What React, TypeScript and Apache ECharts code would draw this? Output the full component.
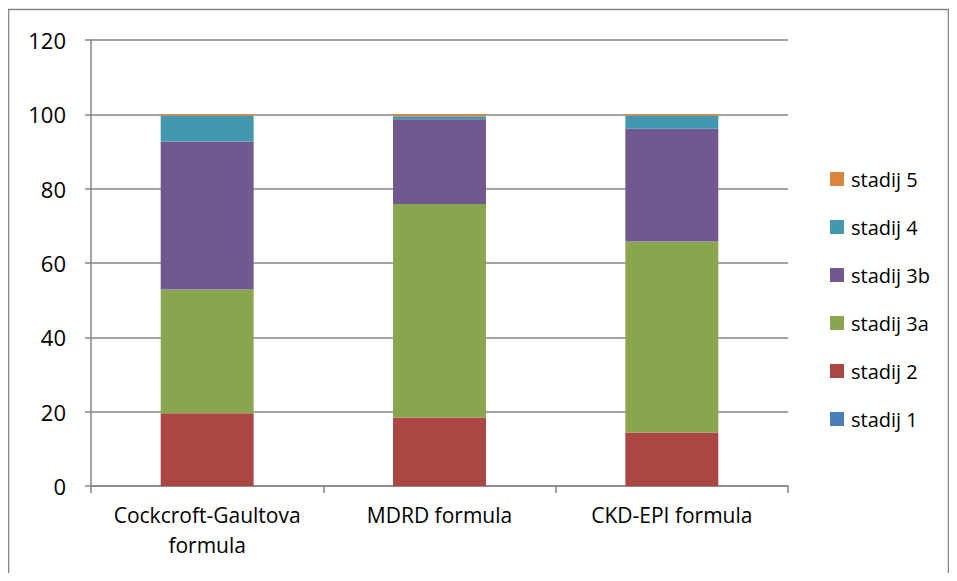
import React, { useEffect, useRef } from "react";
import * as echarts from "echarts";

const categories = ["Cockcroft-Gaultova\nformula", "MDRD formula", "CKD-EPI formula"];
const seriesNames = ["stadij 1", "stadij 2", "stadij 3a", "stadij 3b", "stadij 4", "stadij 5"];
const stadij1 = [0, 0, 0];
const stadij2 = [19.6, 18.4, 14.4];
const stadij3a = [33.3, 57.5, 51.4];
const stadij3b = [39.8, 22.8, 30.3];
const stadij4 = [6.9, 0.8, 3.5];
const stadij5 = [0.4, 0.5, 0.4];
const colors = ["#4a7ebb", "#aa4643", "#89a54e", "#71588f", "#4198af", "#db843d"];
const yTicks = [0, 20, 40, 60, 80, 100, 120];

const FONT = "'Open Sans', 'Noto Sans', sans-serif";

export default function App() {
  const ref = useRef<HTMLDivElement>(null);
  useEffect(() => {
    if (!ref.current) return;
    const chart = echarts.init(ref.current, undefined, { renderer: "svg" });
    const values = [stadij1, stadij2, stadij3a, stadij3b, stadij4, stadij5];
    chart.setOption({
      animation: false,
      textStyle: { fontFamily: FONT },
      graphic: [
        {
          type: "rect",
          shape: { x: 0, y: 0, width: 940, height: 600 },
          x: 0.5,
          y: 1.5,
          style: { fill: "none", stroke: "#868686", lineWidth: 1.5 },
          silent: true,
        },
      ],
      grid: { left: 83, right: 161, top: 32, bottom: 87, containLabel: false },
      legend: {
        orient: "vertical",
        left: 817,
        top: 156,
        itemWidth: 14,
        itemHeight: 14,
        itemGap: 28,
        icon: "rect",
        data: [...seriesNames].reverse(),
        textStyle: { fontSize: 20, color: "#000", fontFamily: FONT, padding: [0, 0, 0, 2] },
      },
      xAxis: {
        type: "category",
        data: categories,
        axisLine: { lineStyle: { color: "#868686", width: 1.5 } },
        axisTick: { show: true, length: 7, lineStyle: { color: "#868686", width: 1.5 } },
        axisLabel: { color: "#000", fontSize: 21, margin: 14, lineHeight: 30, interval: 0, fontFamily: FONT },
      },
      yAxis: {
        type: "value",
        min: 0,
        max: 120,
        interval: 20,
        axisLine: { show: true, lineStyle: { color: "#868686", width: 1.5 } },
        axisTick: { show: true, length: 6, lineStyle: { color: "#868686", width: 1.5 } },
        axisLabel: {
          color: "#000",
          fontSize: 22,
          margin: 25,
          fontFamily: FONT,
          formatter: (v: number) => (yTicks.includes(v) ? String(v) : ""),
        },
        splitLine: { show: true, lineStyle: { color: "#868686", width: 1.5 } },
      },
      series: seriesNames.map((name, i) => ({
        name,
        type: "bar",
        stack: "total",
        barWidth: "40%",
        data: values[i],
        itemStyle: { color: colors[i] },
      })),
    });
    return () => chart.dispose();
  }, []);
  return <div ref={ref} style={{ width: 941, height: 565 }} />;
}
